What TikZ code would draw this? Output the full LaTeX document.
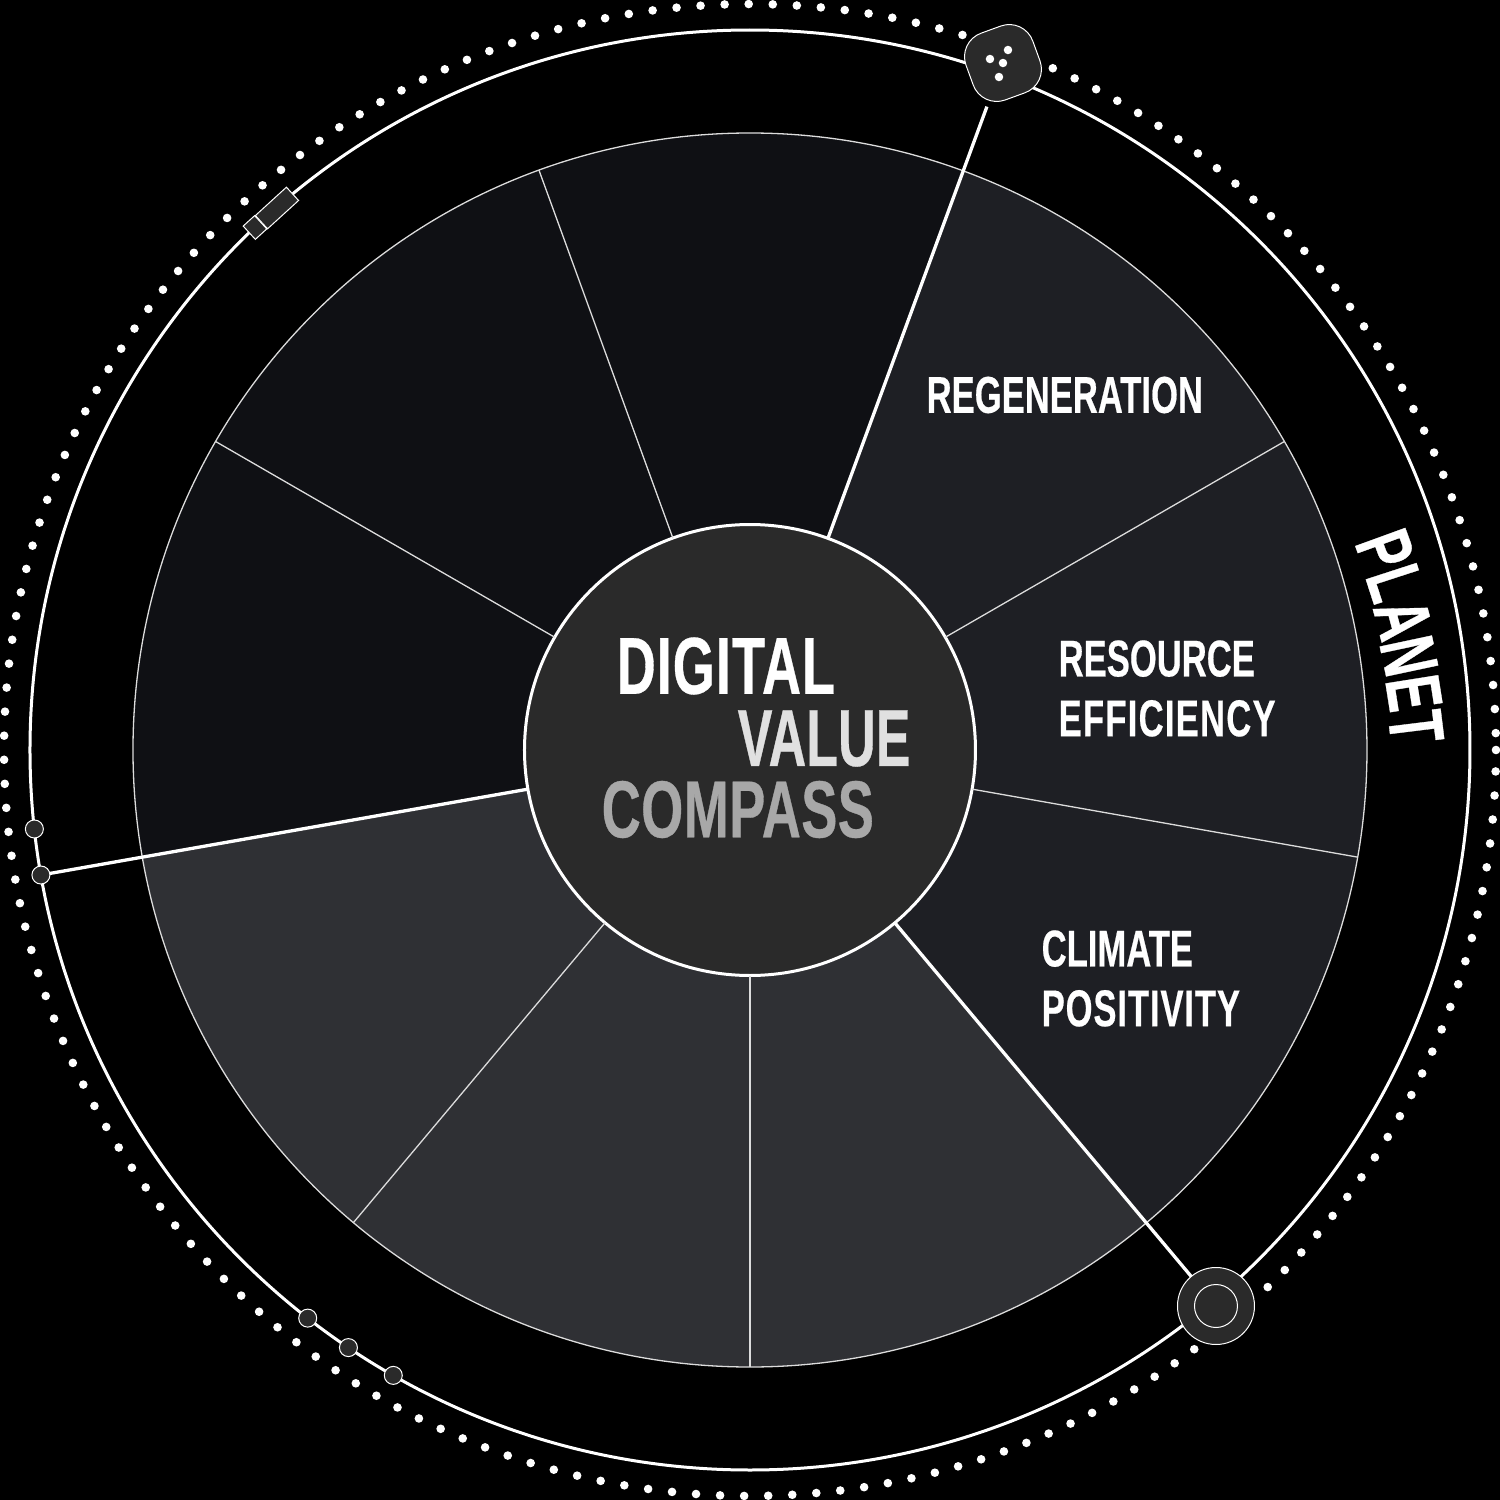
\documentclass[tikz,border=0pt]{standalone}
\usepackage{fontspec}
\newfontfamily\condfont[FakeStretch=0.67,FakeBold=0.4]{Liberation Sans}
\newfontfamily\valuefont[FakeStretch=0.645,FakeBold=0.4]{Liberation Sans}

\tikzset{
    core/.style={font=\condfont\bfseries\fontsize{23}{23}\selectfont, inner sep=0pt, anchor=west},
    label/.style={font=\condfont\bfseries\fontsize{14.7}{17}\selectfont, text=white, inner sep=0pt, anchor=west, align=left},
    letter/.style={font=\condfont\bfseries\fontsize{22}{22}\selectfont, text=white, inner sep=0pt},
    ring/.style={circle, draw=#1, inner sep=0pt, outer sep=0pt},
    part/.style={draw=white, line width=0.01cm, fill=partgray, inner sep=0pt, outer sep=0pt},
    bead/.style={part, circle, minimum size=0.18cm},
    pip/.style={circle, fill=white, inner sep=0pt, minimum size=0.085cm},
    hair/.style={draw=hairgray, line width=0.013cm},
    bold/.style={draw=white, line width=0.033cm}
}
\definecolor{partgray}{HTML}{2A2A2A}
\definecolor{hairgray}{HTML}{DCDCDC}
\definecolor{dimsector}{HTML}{0F1014}
\definecolor{midsector}{HTML}{1E1F24}
\definecolor{litsector}{HTML}{2F3034}
\definecolor{valuegray}{HTML}{E0E0E0}
\definecolor{compassgray}{HTML}{A8A8A8}

\begin{document}
\begin{tikzpicture}
    % Background
    \useasboundingbox (-7.5, -7.5) rectangle (7.5, 7.5);
    \fill[black] (-7.5, -7.5) rectangle (7.5, 7.5);

    % Dotted rim
    \foreach \k in {0,...,193} {
        \fill[white] ({1.3 + 1.85*\k}:7.46) circle (0.043);
    }
    \fill[white] (0:7.46) circle (0.043);

    % Sectors
    \fill[midsector] (0, 0) -- (70:6.17) arc[start angle=70, end angle=-50, radius=6.17] -- cycle;
    \fill[litsector] (0, 0) -- (-50:6.17) arc[start angle=-50, end angle=-170, radius=6.17] -- cycle;
    \fill[dimsector] (0, 0) -- (70:6.17) arc[start angle=70, end angle=190, radius=6.17] -- cycle;

    % Circles
    \node[ring=white, line width=0.03cm, minimum size=14.4cm] (orbit) at (0, 0) {};
    \node[ring=hairgray, line width=0.013cm, minimum size=12.34cm] (wheel) at (0, 0) {};
    \node[ring=white, line width=0.03cm, fill=partgray, minimum size=4.51cm] (hub) at (0, 0) {};

    % Thin spokes
    \foreach \a in {30, -10, -90, -130, 150, 110} {
        \draw[hair] (hub.\a) -- (wheel.\a);
    }

    % Satellite with pips
    \node[part, rectangle, rotate=20, minimum size=0.71cm, rounded corners=0.25cm] (satellite) at (2.53, 6.87) {};
    \node[pip] (pipa) at (2.58, 7.00) {};
    \node[pip] (pipb) at (2.40, 6.91) {};
    \node[pip] (pipc) at (2.53, 6.87) {};
    \node[pip] (pipd) at (2.49, 6.73) {};

    % Probe
    \node[part, rectangle, rotate=42.4, minimum width=0.42cm, minimum height=0.18cm] (probebody) at (-4.73, 5.42) {};
    \node[part, rectangle, rotate=42.4, minimum width=0.155cm, minimum height=0.18cm] (probetip) at (-4.95, 5.225) {};

    % Ring station
    \node[part, circle, minimum size=0.77cm] (station) at (4.66, -5.56) {};
    \node[ring=white, line width=0.01cm, minimum size=0.43cm] (stationcore) at (station) {};

    % Beads on the orbit
    \node[bead] (beada) at (186.3:7.2) {};
    \node[bead] (beadb) at (190:7.2) {};
    \node[bead] (beadc) at (232.1:7.2) {};
    \node[bead] (beadd) at (236.1:7.2) {};
    \node[bead] (beade) at (240.3:7.2) {};

    % Thick spokes
    \draw[bold] (hub) -- (satellite);
    \draw[bold] (hub) -- (station);
    \draw[bold] (hub) -- (beadb);

    % Centre title
    \node[core, text=white] (digital) at (-1.34, 0.84) {\addfontfeature{LetterSpace=1.2}DIGITAL};
    \node[core, text=valuegray, font=\valuefont\bfseries\fontsize{23}{23}\selectfont] (value) at (-0.13, 0.115) {VALUE};
    \node[core, text=compassgray] (compass) at (-1.49, -0.595) {\addfontfeature{LetterSpace=0.5}COMPASS};

    % Sector labels
    \node[label] (regeneration) at (1.76, 3.55) {REGENERATION};
    \node[label] (resource) at (3.08, 0.615) {RESOURCE\\{\addfontfeature{LetterSpace=2.4}EFFICIENCY}};
    \node[label] (climate) at (2.91, -2.285) {CLIMATE\\{\addfontfeature{LetterSpace=1.7}POSITIVITY}};

    % Planet lettering
    \foreach \ch/\x/\y/\r [count=\i] in {P/6.35/2.00/20, L/6.45/1.67/18, A/6.53/1.31/15, N/6.59/0.94/12, E/6.64/0.57/9, T/6.66/0.23/7} {
        \node[letter, rotate=\r-90] (planet\i) at (\x, \y) {\ch};
    }
\end{tikzpicture}
\end{document}
